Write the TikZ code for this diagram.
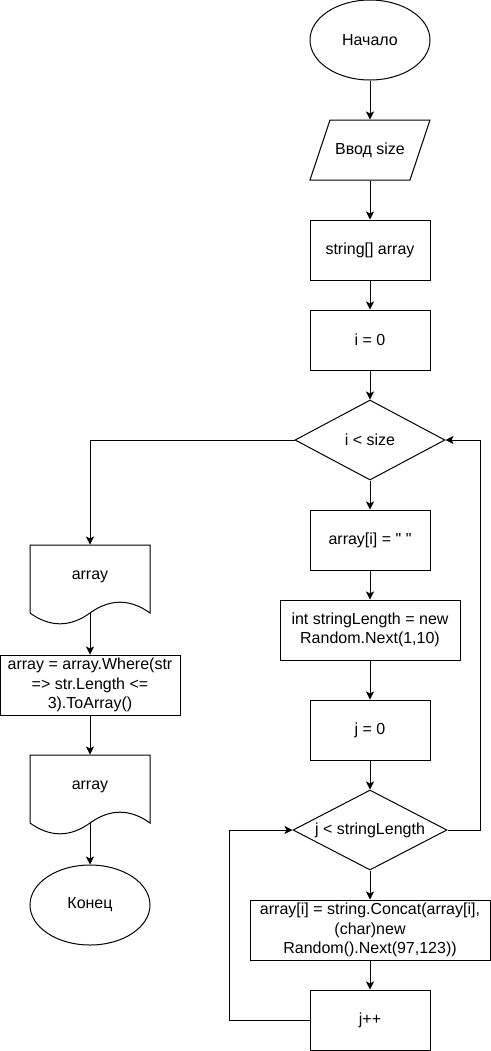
\documentclass[tikz,border=0pt]{standalone}
\usepackage{fontspec}
\setmainfont{Liberation Sans}[Ligatures=TeXOff]
\usetikzlibrary{shapes.geometric,arrows.meta}

% document (punched-tape) outline, 120 x 80, top-left corner at (#1,#2)
\newcommand\docshape[2]{%
  \draw[shift={(#1,#2)}] (0,0) -- (120,0) -- (120,68)
    .. controls (100,53.6) and (80,53.6) .. (60,68)
    .. controls (40,82.4) and (20,82.4) .. (0,68) -- cycle;}

\begin{document}
\begin{tikzpicture}[x=0.75pt,y=-0.75pt,line width=0.75pt,
  every node/.style={font=\fontsize{12pt}{14.4pt}\selectfont,inner sep=0pt,align=center},
  proc/.style={draw,rectangle,minimum width=90pt,minimum height=45pt},
  term/.style={draw,ellipse,minimum width=90pt,minimum height=60pt},
  cond/.style={draw,diamond,aspect=1.9,minimum width=112.5pt,minimum height=60pt},
  frame/.style={rectangle,minimum width=90pt,minimum height=45pt},
  flow/.style={-{Stealth[length=6pt,width=6pt,inset=1.5pt]}}]
\useasboundingbox (0,0) rectangle (491,1051);

% main column
\node[term] (start) at (370,40) {Начало};
\node[frame] (inp) at (370,150) {Ввод size};
\draw (310,180) -- (330,120) -- (430,120) -- (410,180) -- cycle;
\node[proc] (arr) at (370,250) {string[] array};
\node[proc] (i0) at (370,340) {i = 0};
\node[cond] (ci) at (370,440) {i < size};
\node[proc] (ai) at (370,540) {array[i] = " "};
\node[proc,minimum width=135pt] (len) at (370,630) {int stringLength = new\\Random.Next(1,10)};
\node[proc] (j0) at (370,730) {j = 0};
\node[cond,minimum width=115.5pt] (cj) at (370,830) {j < stringLength};
\node[proc,minimum width=180pt] (cat) at (370,930) {array[i] = string.Concat(array[i],\\(char)new\\Random().Next(97,123))};
\node[proc] (jpp) at (370,1020) {j++};

% output column
\node[frame,minimum height=60pt] (d1) at (90,585) {};
\docshape{30}{545}
\node (d1t) at (90,577) {array};
\coordinate (d1b) at (90,613);
\node[proc,minimum width=135pt] (wh) at (90,685) {array = array.Where(str\\=> str.Length <=\\3).ToArray()};
\node[frame,minimum height=60pt] (d2) at (90,795) {};
\docshape{30}{755}
\node (d2t) at (90,787) {array};
\coordinate (d2b) at (90,823);
\node[term] (end) at (90,905) {Конец};

% connectors
\draw[flow] (start.south) -- (inp.north);
\draw[flow] (inp.south) -- (arr.north);
\draw[flow] (arr.south) -- (i0.north);
\draw[flow] (i0.south) -- (ci.north);
\draw[flow] (ci.south) -- (ai.north);
\draw[flow] (ai.south) -- (len.north);
\draw[flow] (len.south) -- (j0.north);
\draw[flow] (j0.south) -- (cj.north);
\draw[flow] (cj.south) -- (cat.north);
\draw[flow] (cat.south) -- (jpp.north);
\draw[flow] (jpp.west) -- ++(-80,0) |- (cj.west);
\draw[flow] (cj.east) -- ++(33,0) |- (ci.east);
\draw[flow] (ci.west) -| (d1.north);
\draw[flow] (d1b) -- (wh.north);
\draw[flow] (wh.south) -- (d2.north);
\draw[flow] (d2b) -- (end.north);
\end{tikzpicture}
\end{document}
